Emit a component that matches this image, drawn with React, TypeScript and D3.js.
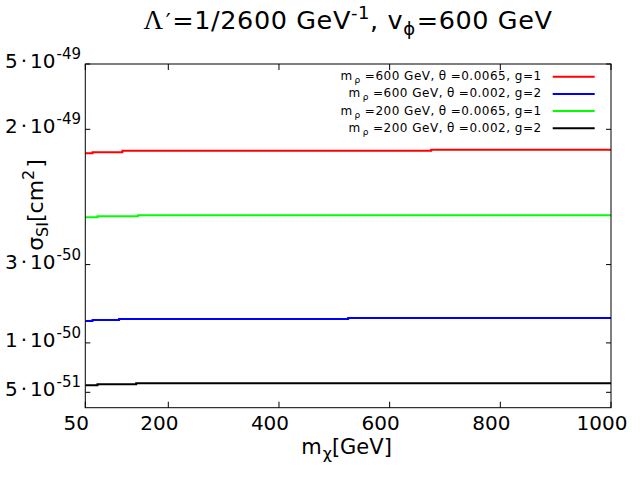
import React from 'react';
import * as d3 from 'd3';

// ---------- data ----------
const xTickValues = [50, 200, 400, 600, 800, 1000];
const yTickValues = [5e-49, 2e-49, 3e-50, 1e-50, 5e-51];
const yTickMantissas = ['5', '2', '3', '1', '5'];
const yTickExponents = ['-49', '-49', '-50', '-50', '-51'];

const seriesColors = ['#ff0000', '#0000ff', '#00ff00', '#000000'];
const seriesMRho = ['600', '600', '200', '200'];
const seriesTheta = ['0.0065', '0.002', '0.0065', '0.002'];
const seriesG = ['1', '2', '1', '2'];

const mChiRed = [50, 63, 117, 675, 1000];
const sigmaRed = [1.432e-49, 1.452e-49, 1.479e-49, 1.5e-49, 1.5e-49];
const mChiBlue = [50, 63, 111, 525, 1000];
const sigmaBlue = [1.358e-50, 1.377e-50, 1.396e-50, 1.416e-50, 1.416e-50];
const mChiGreen = [50, 72, 145, 1000];
const sigmaGreen = [5.83e-50, 5.91e-50, 5.99e-50, 5.99e-50];
const mChiBlack = [50, 72, 142, 1000];
const sigmaBlack = [5.52e-51, 5.6e-51, 5.68e-51, 5.68e-51];

const seriesX = [mChiRed, mChiBlue, mChiGreen, mChiBlack];
const seriesY = [sigmaRed, sigmaBlue, sigmaGreen, sigmaBlack];

// ---------- layout ----------
const W = 640;
const H = 480;
const left = 85.3;
const right = 611;
const top = 64;
const bottom = 407.7;
const font = 'DejaVu Sans';

export default function App() {
  const x = d3.scaleLinear().domain([50, 1000]).range([left, right]);
  const y = d3.scaleLog().domain([4.03e-51, 5e-49]).range([bottom, top]);

  const line = d3
    .line<[number, number]>()
    .x((d) => x(d[0]))
    .y((d) => y(d[1]))
    .curve(d3.curveStepAfter);

  const tickLen = 6;

  return (
    <svg
      width={W}
      height={H}
      style={{ position: 'absolute', left: 0, top: 0, background: '#fff' }}
      fontFamily={font}
    >
      <rect x={0} y={0} width={W} height={H} fill="#fff" />

      {/* title */}
      <text x={348} y={29} textAnchor="middle" fontSize={25.5} letterSpacing={0.6} fill="#000">
        <tspan fontFamily="Liberation Serif" fontSize={27}>Λ</tspan>
        <tspan fontSize={22} dx={2}>′</tspan>
        <tspan dx={1}>=1/2600 GeV</tspan>
        <tspan fontSize={18} dy={-10}>-1</tspan>
        <tspan dy={10}>, v</tspan>
        <tspan fontSize={18} dy={6}>ϕ</tspan>
        <tspan dy={-6} dx={1}>=600 GeV</tspan>
      </text>

      {/* series */}
      <defs>
        <clipPath id="plotclip">
          <rect x={left} y={top} width={right - left} height={bottom - top} />
        </clipPath>
      </defs>
      <g clipPath="url(#plotclip)">
        {seriesX.map((xs, i) => (
          <path
            key={i}
            d={line(xs.map((v, j) => [v, seriesY[i][j]] as [number, number])) || ''}
            fill="none"
            stroke={seriesColors[i]}
            strokeWidth={2}
          />
        ))}
      </g>

      {/* frame */}
      <rect
        x={left}
        y={top}
        width={right - left}
        height={bottom - top}
        fill="none"
        stroke="#000"
        strokeWidth={1}
      />

      {/* x ticks */}
      {xTickValues.map((t) => (
        <g key={'x' + t}>
          <line x1={x(t)} x2={x(t)} y1={bottom} y2={bottom - tickLen} stroke="#000" />
          <line x1={x(t)} x2={x(t)} y1={top} y2={top + tickLen} stroke="#000" />
          <text x={x(t) - 9} y={429.5} textAnchor="middle" fontSize={20} fill="#000">
            {t}
          </text>
        </g>
      ))}

      {/* y ticks */}
      {yTickValues.map((t, i) => (
        <g key={'y' + i}>
          <line x1={left} x2={left + 5} y1={y(t)} y2={y(t)} stroke="#000" />
          <line x1={right} x2={right - 5} y1={y(t)} y2={y(t)} stroke="#000" />
          <text x={81} y={y(t) + 4} textAnchor="end" fontSize={20} fill="#000">
            {yTickMantissas[i]}
            <tspan dx={3}>·</tspan>
            <tspan dx={3}>10</tspan>
            <tspan fontSize={15} dy={-9} dx={1}>
              {yTickExponents[i]}
            </tspan>
          </text>
        </g>
      ))}

      {/* axis labels */}
      <text x={346.5} y={454.3} textAnchor="middle" fontSize={21} fill="#000">
        m<tspan fontSize={16} dy={5} dx={1}>χ</tspan>
        <tspan dy={-5}>[GeV]</tspan>
      </text>
      <text
        transform="translate(43,205) rotate(-90)"
        textAnchor="middle"
        fontSize={22}
        fill="#000"
      >
        σ<tspan fontSize={16} dy={5}>SI</tspan>
        <tspan dy={-5}>[cm</tspan>
        <tspan fontSize={16} dy={-9}>2</tspan>
        <tspan dy={9} dx={2}>]</tspan>
      </text>

      {/* legend */}
      {seriesColors.map((c, i) => {
        const ly = 76.7 + i * 17.2;
        return (
          <g key={'leg' + i}>
            <text
              x={541.7}
              y={ly + 3.5}
              textAnchor="end"
              fontSize={12}
              letterSpacing={0.5}
              fill="#000"
            >
              m<tspan fontSize={9} dy={3} dx={2}>ρ</tspan>
              <tspan dy={-3} dx={4}>={seriesMRho[i]} GeV,</tspan>
              <tspan dx={4}>θ</tspan>
              <tspan dx={4}>={seriesTheta[i]}, g={seriesG[i]}</tspan>
            </text>
            <line x1={552.7} x2={594.7} y1={ly} y2={ly} stroke={c} strokeWidth={2} />
          </g>
        );
      })}
    </svg>
  );
}
